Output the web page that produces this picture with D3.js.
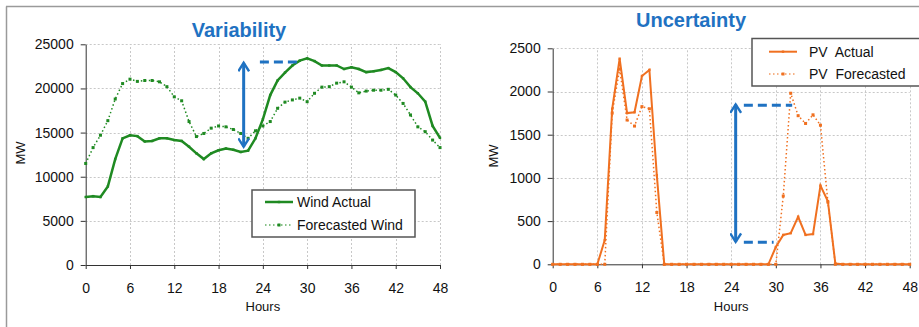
<!DOCTYPE html>
<html>
<head>
<meta charset="utf-8">
<script src="https://cdn.jsdelivr.net/npm/d3@7"></script>
<style>
  body { margin: 0; background: #fff; }
  svg { display: block; font-family: "Liberation Sans", Arial, sans-serif; }
  .grid line { stroke: #c8c8c8; stroke-dasharray: 2,2; }
  .axis path, .axis line { stroke: #333; }
  .axis text { font-size: 14px; fill: #111; }
</style>
</head>
<body>
<div id="chart"></div>
<script>
// hours 0..48
var hours = d3.range(0, 49);
var hourTicks = [0, 6, 12, 18, 24, 30, 36, 42, 48];

// wind (MW)
var windActual = [7700, 7800, 7700, 8900, 12000, 14350, 14700, 14600, 14000, 14050,
  14350, 14350, 14150, 14050, 13400, 12650, 12000, 12650, 13000, 13200,
  13050, 12800, 12950, 14350, 16500, 19250, 20900, 21800, 22600, 23150,
  23400, 23100, 22600, 22600, 22600, 22200, 22400, 22200, 21850, 21950,
  22100, 22300, 21850, 21150, 20150, 19450, 18500, 15750, 14400];
var windForecast = [11500, 13300, 14700, 16350, 18800, 20550, 21050, 20800, 20900, 20900,
  20750, 20200, 19050, 18600, 16250, 14550, 14900, 15500, 15750, 15650,
  15350, 14900, 14350, 15200, 15750, 16250, 17750, 18450, 18700, 18900,
  18500, 19450, 20150, 20200, 20600, 20750, 20150, 19500, 19700, 19800,
  19800, 19900, 19250, 18300, 17000, 15650, 15100, 14150, 13300];
var windTicks = [0, 5000, 10000, 15000, 20000, 25000];

// PV (MW)
var pvActual = [0, 0, 0, 0, 0, 0, 0, 280, 1800, 2380,
  1750, 1760, 2180, 2250, 1030, 0, 0, 0, 0, 0,
  0, 0, 0, 0, 0, 0, 0, 0, 0, 0,
  200, 340, 360, 550, 340, 350, 910, 730, 10, 0,
  0, 0, 0, 0, 0, 0, 0, 0, 0];
var pvForecast = [0, 0, 0, 0, 0, 0, 0, 0, 1750, 2260,
  1670, 1600, 1825, 1800, 600, 0, 0, 0, 0, 0,
  0, 0, 0, 0, 0, 0, 0, 0, 0, 0,
  0, 790, 1980, 1720, 1630, 1730, 1610, 720, 0, 0,
  0, 0, 0, 0, 0, 0, 0, 0, 0];
var pvTicks = [0, 500, 1000, 1500, 2000, 2500];

var blue = "#1f72c2";

var svg = d3.select("#chart").append("svg")
  .attr("width", 919)
  .attr("height", 327);

// frame lines
svg.append("line").attr("x1", 6.5).attr("x2", 6.5).attr("y1", 6.5).attr("y2", 327)
  .attr("stroke", "#9a9a9a").attr("stroke-width", 1.5);
svg.append("line").attr("x1", 6).attr("x2", 919).attr("y1", 6.5).attr("y2", 6.5)
  .attr("stroke", "#9a9a9a").attr("stroke-width", 1.5);

var defs = svg.append("defs");
defs.append("marker")
  .attr("id", "arrow")
  .attr("viewBox", "0 0 10 10")
  .attr("refX", 8).attr("refY", 5)
  .attr("markerWidth", 4).attr("markerHeight", 4)
  .attr("orient", "auto-start-reverse")
  .append("path")
  .attr("d", "M1,0.5 L8,5 L1,9.5")
  .attr("fill", "none")
  .attr("stroke", blue)
  .attr("stroke-width", 2);

function drawPanel(cfg) {
  var x = d3.scaleLinear().domain([0, 48]).range(cfg.xRange);
  var y = d3.scaleLinear().domain([0, cfg.yMax]).range(cfg.yRange);
  var g = svg.append("g");

  // gridlines
  var grid = g.append("g").attr("class", "grid");
  grid.selectAll(".gx").data(hourTicks.slice(1)).enter().append("line")
    .attr("x1", d => Math.round(x(d)) + 0.5).attr("x2", d => Math.round(x(d)) + 0.5)
    .attr("y1", y(0)).attr("y2", y(cfg.yMax));
  grid.selectAll(".gy").data(cfg.yTicks.slice(1)).enter().append("line")
    .attr("y1", d => Math.round(y(d)) + 0.5).attr("y2", d => Math.round(y(d)) + 0.5)
    .attr("x1", x(0)).attr("x2", x(48));

  // axes
  var xAxis = g.append("g").attr("class", "axis")
    .attr("transform", `translate(0, ${y(0)})`)
    .call(d3.axisBottom(x).tickValues(hourTicks).tickSize(4).tickPadding(14).tickSizeOuter(0));
  var yAxis = g.append("g").attr("class", "axis")
    .attr("transform", `translate(${x(0)}, 0)`)
    .call(d3.axisLeft(y).tickValues(cfg.yTicks).tickSize(5).tickPadding(7).tickSizeOuter(0).tickFormat(d3.format("d")));

  // titles
  g.append("text")
    .attr("x", cfg.titleX).attr("y", cfg.titleY)
    .attr("text-anchor", "middle")
    .attr("font-size", 20).attr("font-weight", "bold")
    .attr("fill", blue)
    .text(cfg.title);
  g.append("text")
    .attr("x", x(24)).attr("y", 311)
    .attr("text-anchor", "middle")
    .attr("font-size", 13).attr("fill", "#111")
    .text("Hours");
  g.append("text")
    .attr("transform", `translate(${cfg.mwX}, ${cfg.mwY}) rotate(-90)`)
    .attr("text-anchor", "middle")
    .attr("font-size", 13).attr("fill", "#111")
    .text("MW");

  var line = d3.line().x((d, i) => x(hours[i])).y(d => y(d));

  // forecast (dotted)
  g.append("path").datum(cfg.forecast)
    .attr("d", line)
    .attr("fill", "none")
    .attr("stroke", cfg.color)
    .attr("stroke-width", 1.5)
    .attr("stroke-dasharray", "1.5,2.5");
  g.selectAll(".fm").data(cfg.forecast).enter().append("rect")
    .attr("x", (d, i) => x(hours[i]) - 1.5)
    .attr("y", d => y(d) - 1.5)
    .attr("width", 3).attr("height", 3)
    .attr("fill", cfg.color);

  // actual (solid)
  g.append("path").datum(cfg.actual)
    .attr("d", line)
    .attr("fill", "none")
    .attr("stroke", cfg.color)
    .attr("stroke-width", cfg.actualWidth);
  g.selectAll(".am").data(cfg.actual).enter().append("rect")
    .attr("x", (d, i) => x(hours[i]) - 1.2)
    .attr("y", d => y(d) - 1.2)
    .attr("width", 2.4).attr("height", 2.4)
    .attr("fill", cfg.color);

  // annotation arrows
  g.append("line")
    .attr("x1", x(cfg.arrow.h)).attr("x2", x(cfg.arrow.h))
    .attr("y1", y(cfg.arrow.top)).attr("y2", y(cfg.arrow.bottom))
    .attr("stroke", blue).attr("stroke-width", 3)
    .attr("marker-start", "url(#arrow)")
    .attr("marker-end", "url(#arrow)");
  cfg.dashes.forEach(function(d) {
    g.append("line")
      .attr("x1", x(d.h0)).attr("x2", x(d.h1))
      .attr("y1", y(d.v)).attr("y2", y(d.v))
      .attr("stroke", blue).attr("stroke-width", 3)
      .attr("stroke-dasharray", "9,5");
  });

  // legend
  var L = cfg.legend;
  var lg = g.append("g");
  lg.append("rect")
    .attr("x", L.x).attr("y", L.y).attr("width", L.w).attr("height", L.h)
    .attr("fill", "#fff").attr("stroke", "#555").attr("stroke-width", 1.5);
  lg.append("line")
    .attr("x1", L.sx0).attr("x2", L.sx1).attr("y1", L.r1).attr("y2", L.r1)
    .attr("stroke", cfg.color).attr("stroke-width", cfg.actualWidth);
  lg.append("rect")
    .attr("x", (L.sx0 + L.sx1) / 2 - 1.2).attr("y", L.r1 - 1.2)
    .attr("width", 2.4).attr("height", 2.4).attr("fill", cfg.color);
  lg.append("line")
    .attr("x1", L.sx0).attr("x2", L.sx1).attr("y1", L.r2).attr("y2", L.r2)
    .attr("stroke", cfg.color).attr("stroke-width", 1.5).attr("stroke-dasharray", "1.5,2.5")
    .attr("opacity", 0.7);
  lg.append("rect")
    .attr("x", (L.sx0 + L.sx1) / 2 - 1.5).attr("y", L.r2 - 1.5)
    .attr("width", 3).attr("height", 3).attr("fill", cfg.color);
  lg.append("text").attr("x", L.tx).attr("y", L.r1 + 5)
    .attr("font-size", 14).attr("fill", "#111").attr("xml:space", "preserve")
    .text(cfg.names[0]);
  lg.append("text").attr("x", L.tx).attr("y", L.r2 + 5)
    .attr("font-size", 14).attr("fill", "#111").attr("xml:space", "preserve")
    .text(cfg.names[1]);
}

drawPanel({
  xRange: [85.7, 440], yRange: [265, 44.3], yMax: 25000, yTicks: windTicks,
  actual: windActual, forecast: windForecast,
  color: "#1f8a22", actualWidth: 2.5,
  title: "Variability", titleX: 239, titleY: 37,
  mwX: 25, mwY: 153,
  arrow: { h: 21.4, top: 22900, bottom: 13400 },
  dashes: [{ h0: 23.6, h1: 29, v: 23000 }],
  names: ["Wind Actual", "Forecasted Wind"],
  legend: { x: 252, y: 190, w: 163, h: 47, sx0: 265, sx1: 293, r1: 202, r2: 225, tx: 297 }
});

drawPanel({
  xRange: [552.7, 909.7], yRange: [264.3, 48.3], yMax: 2500, yTicks: pvTicks,
  actual: pvActual, forecast: pvForecast,
  color: "#f07020", actualWidth: 2,
  title: "Uncertainty", titleX: 691, titleY: 27,
  mwX: 498, mwY: 156,
  arrow: { h: 24.6, top: 1850, bottom: 260 },
  dashes: [{ h0: 25.7, h1: 32.2, v: 1840 }, { h0: 25.7, h1: 29.7, v: 255 }],
  names: ["PV  Actual", "PV  Forecasted"],
  legend: { x: 752, y: 38.5, w: 180, h: 47.5, sx0: 769, sx1: 797, r1: 51.7, r2: 74, tx: 809 }
});
</script>
</body>
</html>
